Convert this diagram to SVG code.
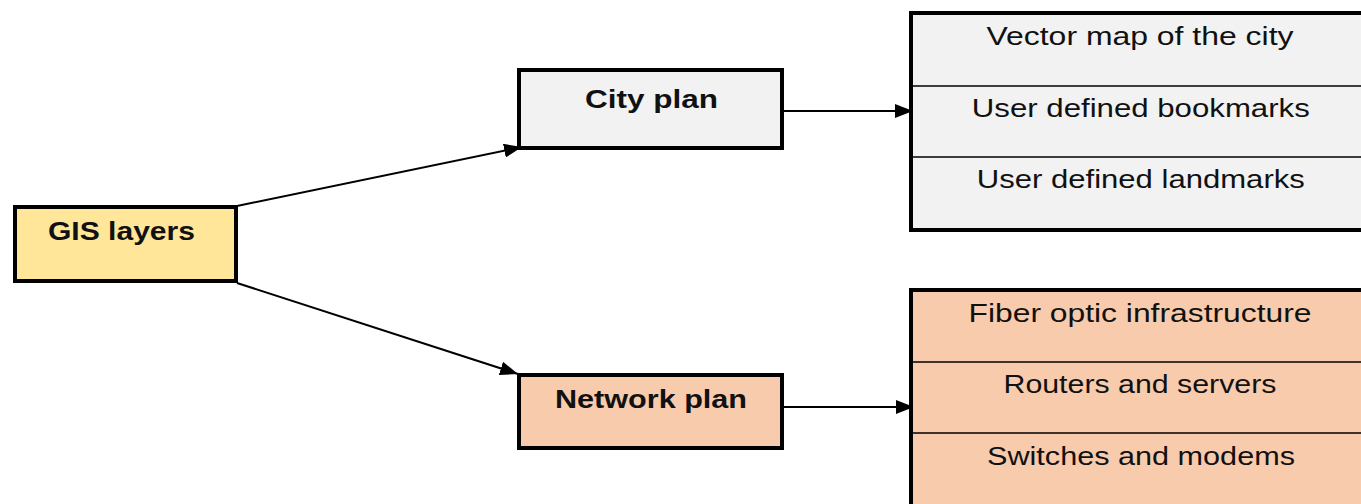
<svg xmlns="http://www.w3.org/2000/svg" width="1361" height="504" viewBox="0 0 1361 504">
<style>
.box{stroke:#000;stroke-width:4}
.div{stroke:#000;stroke-width:1.5}
.t{font-family:"Liberation Sans",Arial,sans-serif;font-size:25px;fill:#111;text-anchor:middle}
.b{font-weight:bold}
.c{stroke:#000;stroke-width:2;fill:none;marker-end:url(#ah)}
</style>
<defs>
<marker id="ah" markerUnits="userSpaceOnUse" markerWidth="18" markerHeight="14" refX="18" refY="7" orient="auto">
<path d="M0,0 L18,7 L0,14 z" fill="#000"/>
</marker>
</defs>
<rect width="1361" height="504" fill="#fff"/>
<g id="connectors">
<line class="c" x1="237" y1="206" x2="522" y2="147"/>
<line class="c" x1="237" y1="283" x2="518" y2="374"/>
<line class="c" x1="784" y1="111" x2="913" y2="111"/>
<line class="c" x1="784" y1="407" x2="914" y2="407"/>
</g>
<g id="gis">
<rect class="box" x="15" y="207" width="221" height="74" fill="#FFE699"/>
<text class="t b" x="121.5" y="240" textLength="147" lengthAdjust="spacingAndGlyphs">GIS layers</text>
</g>
<g id="city">
<rect class="box" x="519" y="70" width="263" height="78" fill="#F2F2F2"/>
<text class="t b" x="651.5" y="108" textLength="133" lengthAdjust="spacingAndGlyphs">City plan</text>
</g>
<g id="network">
<rect class="box" x="519" y="375" width="263" height="73" fill="#F8CBAD"/>
<text class="t b" x="651" y="408" textLength="192" lengthAdjust="spacingAndGlyphs">Network plan</text>
</g>
<g id="city-layers">
<rect class="box" x="911" y="13" width="470" height="217" fill="#F2F2F2"/>
<line class="div" x1="911" y1="86" x2="1361" y2="86"/>
<line class="div" x1="911" y1="157" x2="1361" y2="157"/>
<text class="t" x="1140" y="45" textLength="307" lengthAdjust="spacingAndGlyphs">Vector map of the city</text>
<text class="t" x="1140.8" y="117" textLength="338" lengthAdjust="spacingAndGlyphs">User defined bookmarks</text>
<text class="t" x="1140.8" y="188" textLength="328" lengthAdjust="spacingAndGlyphs">User defined landmarks</text>
</g>
<g id="network-layers">
<rect class="box" x="911" y="290" width="470" height="240" fill="#F8CBAD"/>
<line class="div" x1="911" y1="362" x2="1361" y2="362"/>
<line class="div" x1="911" y1="433" x2="1361" y2="433"/>
<text class="t" x="1140" y="322" textLength="343" lengthAdjust="spacingAndGlyphs">Fiber optic infrastructure</text>
<text class="t" x="1140" y="393" textLength="273" lengthAdjust="spacingAndGlyphs">Routers and servers</text>
<text class="t" x="1141" y="465" textLength="308" lengthAdjust="spacingAndGlyphs">Switches and modems</text>
</g>
</svg>
